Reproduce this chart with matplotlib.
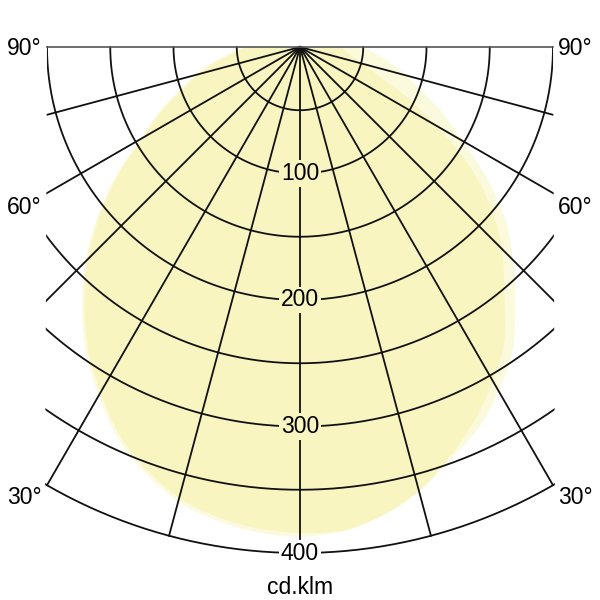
import numpy as np
import matplotlib.pyplot as plt
from matplotlib.patches import Polygon, PathPatch
from matplotlib.path import Path

# luminous intensity in cd/klm, gamma angle from nadir
gamma = [0, 5, 10, 15, 20, 25, 30, 35, 40, 45, 50, 55, 60, 65, 70, 75, 80, 85, 90]
c0 = [387, 384, 376, 364, 347, 333, 314, 293, 265, 238, 212, 180, 148, 125, 103, 87, 72, 60, 50]
c180 = [387, 385, 380, 372, 358, 341, 318, 295, 268, 240, 209, 178, 146, 124, 102, 86, 70, 55, 45]
c90 = [387, 384, 376, 363, 345, 326, 305, 282, 251, 226, 197, 163, 124, 92, 66, 52, 42, 36, 32]
c270 = [384, 382, 377, 369, 355, 338, 315, 292, 265, 237, 206, 175, 143, 121, 99, 83, 67, 52, 42]

rings = [50, 100, 150, 200, 250, 300, 350, 400]
ring_labels = [100, 200, 300, 400]
spokes = [-75, -60, -45, -30, -15, 0, 15, 30, 45, 60, 75]
angle_labels = ["90°", "60°", "30°"]
unit = "cd.klm"

plt.rcParams['font.family'] = ['Liberation Sans', 'DejaVu Sans']

px = 1.265  # pixels per cd/klm
fig = plt.figure(figsize=(6, 6), dpi=100)
ax = fig.add_axes([0, 0, 1, 1])
ax.set_xlim(-300 / px, 300 / px)
ax.set_ylim(-553 / px, 47 / px)
ax.set_aspect('equal')
ax.axis('off')

rmax = rings[-1]
half = rmax / 2
# drawing area: half disc cut at x = +-200 (a bit bigger so the outer ring is whole)
a_edge = np.degrees(np.arcsin(half / rmax))
t = np.radians(np.linspace(a_edge, -a_edge, 120))
pts = [(-half, 2), (half, 2)] + list(zip((rmax + 3) * np.sin(t), -(rmax + 3) * np.cos(t)))
clip = Polygon(pts, closed=True, transform=ax.transData, facecolor='none', edgecolor='none')
ax.add_patch(clip)

main_col = '#f8f5c0'
light_col = '#fcfadc'


def curve_path(left, right):
    g = np.radians(gamma)
    left = np.array(left, float)
    right = np.array(right, float)
    x = np.concatenate([(-left * np.sin(g))[::-1], (right * np.sin(g))[1:]])
    y = np.concatenate([(-left * np.cos(g))[::-1], (-right * np.cos(g))[1:]])
    P = np.column_stack([x, y])
    verts = [P[0]]
    codes = [Path.MOVETO]
    n = len(P)
    for i in range(n - 1):
        p0 = P[i - 1] if i > 0 else P[i]
        p3 = P[i + 2] if i + 2 < n else P[i + 1]
        verts += [P[i] + (P[i + 1] - p0) / 6, P[i + 1] - (p3 - P[i]) / 6, P[i + 1]]
        codes += [Path.CURVE4] * 3
    verts.append(P[0])
    codes.append(Path.CLOSEPOLY)
    return Path(verts, codes)


# union of both planes in light yellow, overlap in the stronger yellow
outer = curve_path(np.maximum(c180, c270), np.maximum(c0, c90))
inner = curve_path(np.minimum(c180, c270), np.minimum(c0, c90))
ax.add_patch(PathPatch(outer, facecolor=light_col, edgecolor='none', zorder=1))
ax.add_patch(PathPatch(inner, facecolor=main_col, edgecolor='none', zorder=1))

# grid
tt = np.radians(np.linspace(-90, 90, 400))
for r in rings:
    ln, = ax.plot(r * np.sin(tt), -r * np.cos(tt), color='#111111', lw=1.3, zorder=2)
    ln.set_clip_path(clip)
for a in spokes:
    ar = np.radians(a)
    ln, = ax.plot([0, rmax * np.sin(ar)], [0, -rmax * np.cos(ar)], color='#111111',
                  lw=1.3, zorder=2)
    ln.set_clip_path(clip)
ax.plot([-half, half], [0, 0], color='#555555', lw=1.2, zorder=2)

for v in ring_labels:
    fc = main_col if v < rmax else 'white'
    ax.text(0, -v, str(v), ha='center', va='center', fontsize=16.5, zorder=3,
            bbox=dict(boxstyle='square,pad=0.08', facecolor=fc, edgecolor='none'))

label_y = [-1, -127, -356]
for txt, y in zip(angle_labels, label_y):
    ax.text(-204, y, txt, ha='right', va='center', fontsize=16.5)
    ax.text(204, y, txt, ha='left', va='center', fontsize=16.5)

ax.text(0, -427, unit, ha='center', va='center', fontsize=16.5)

fig.savefig("out.png", dpi=100)
